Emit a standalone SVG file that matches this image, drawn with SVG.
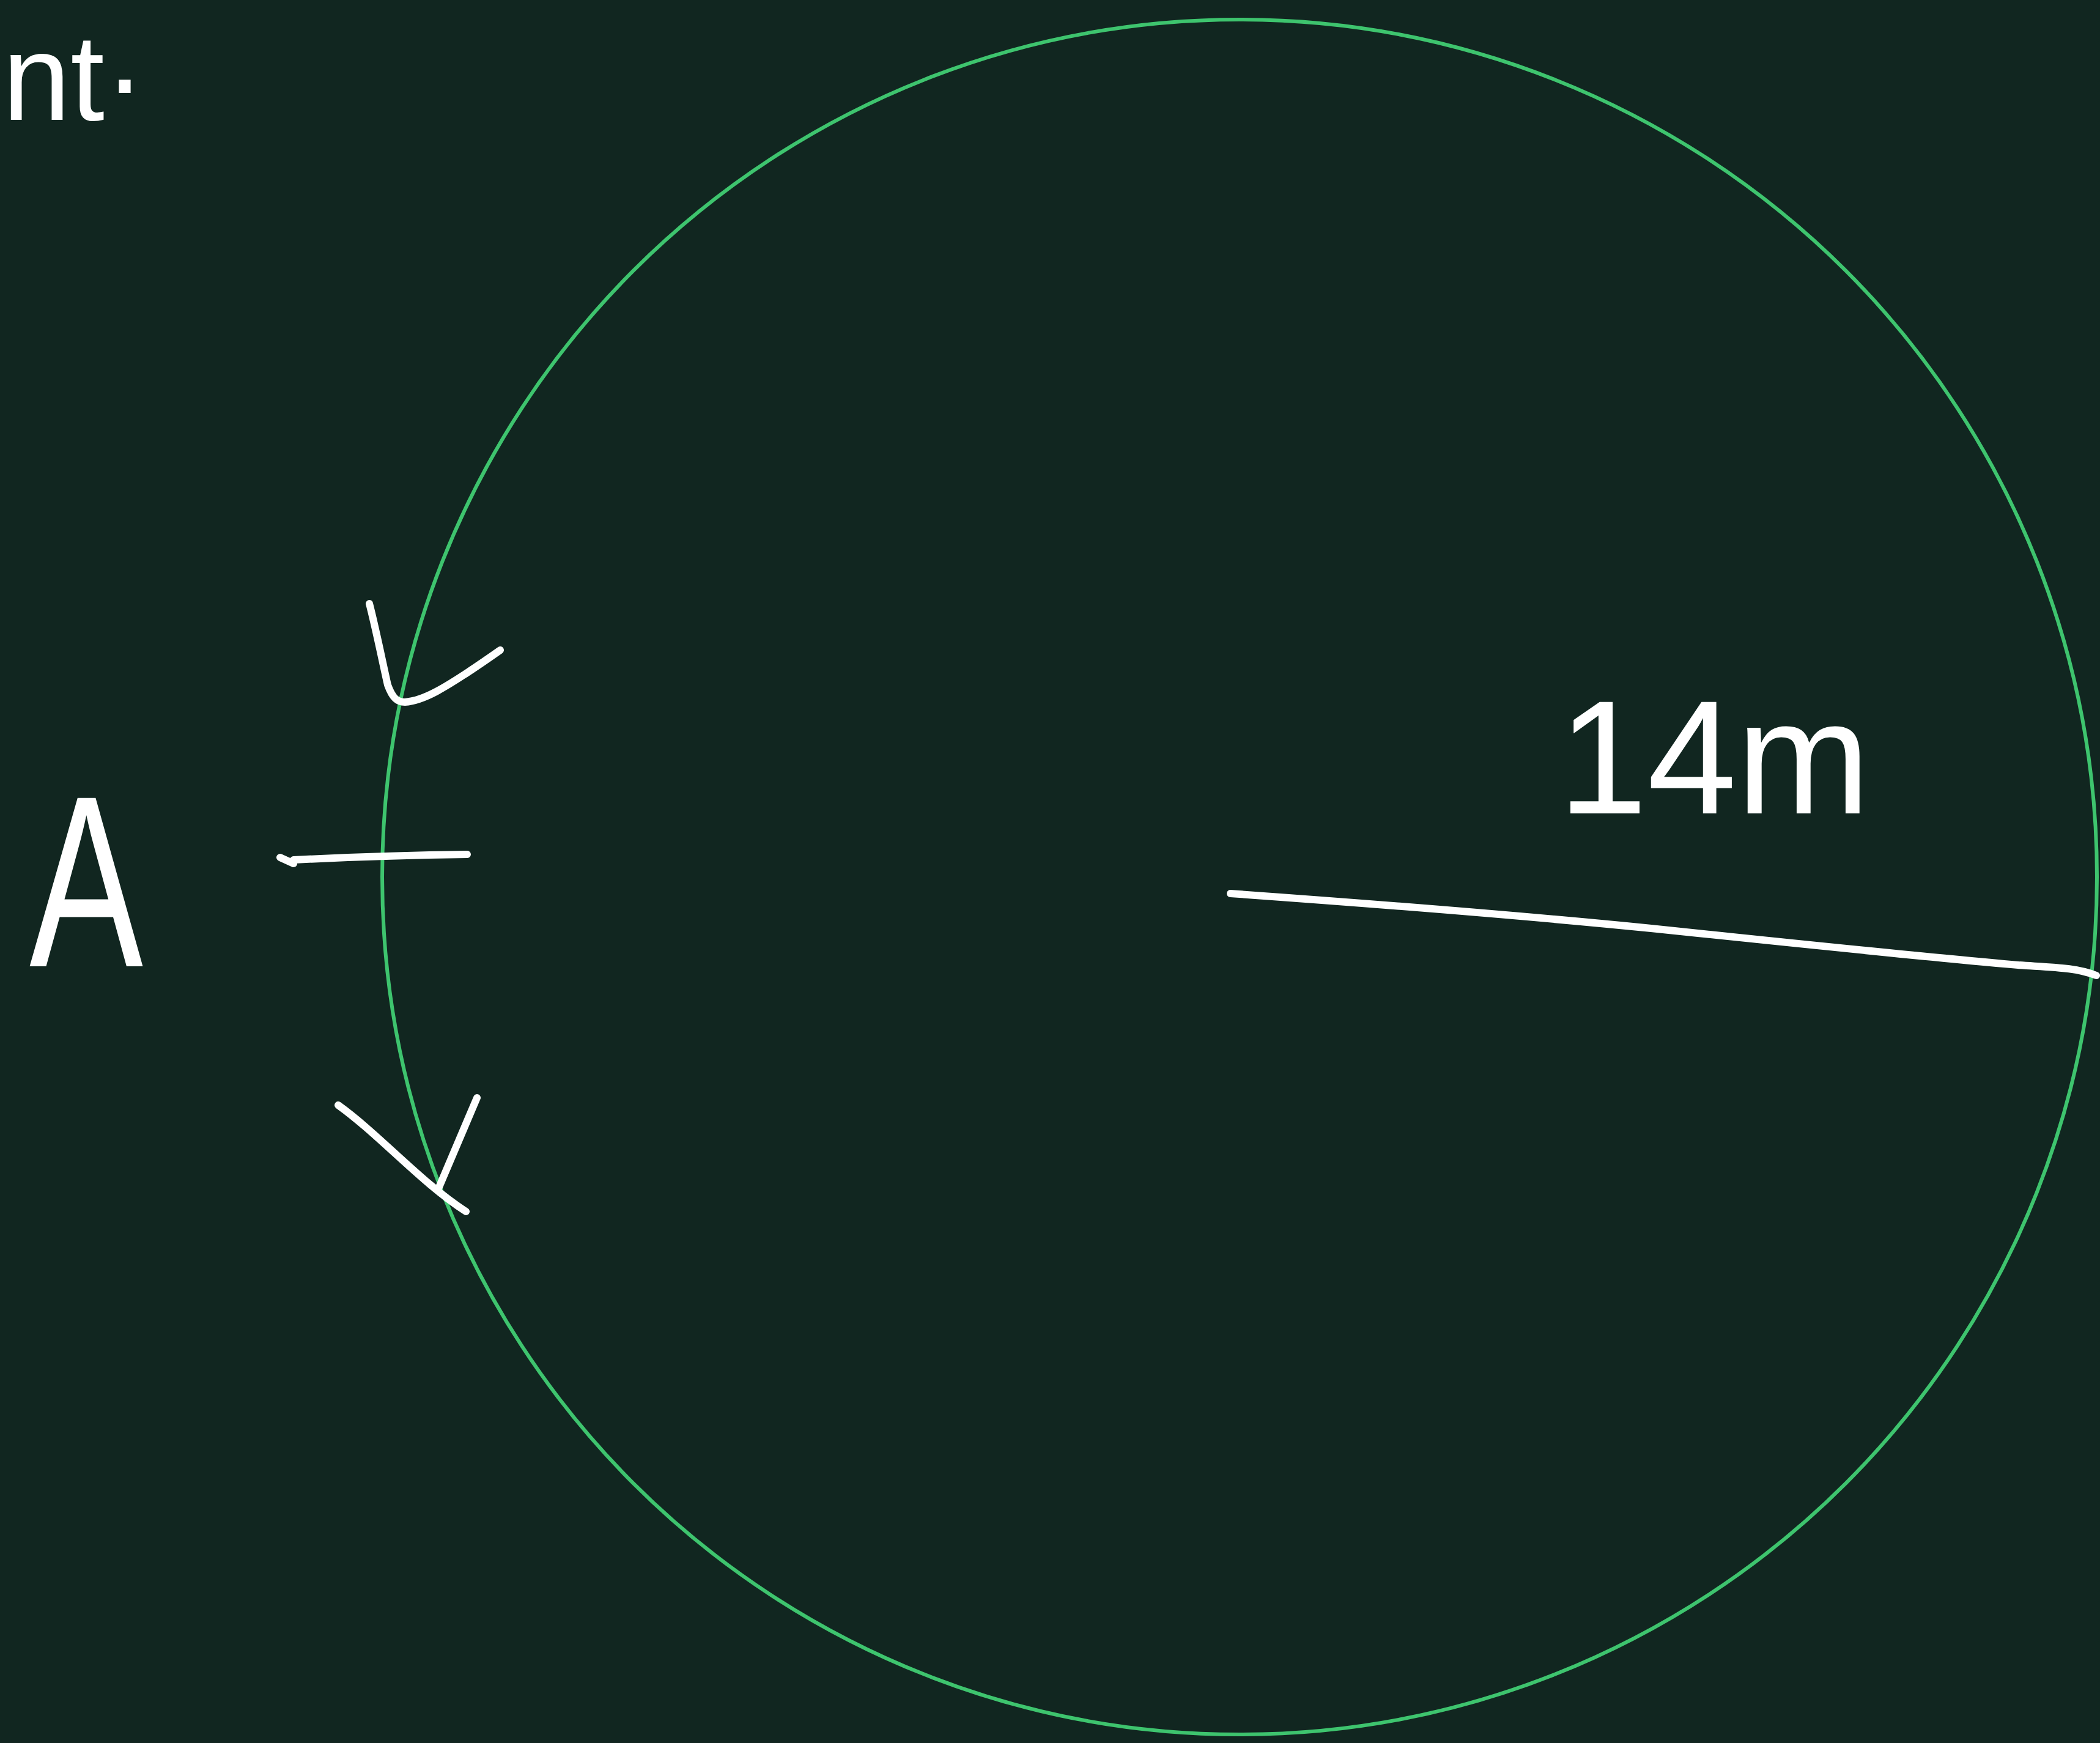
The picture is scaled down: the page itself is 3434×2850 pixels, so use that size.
<svg xmlns="http://www.w3.org/2000/svg" width="3434" height="2850" viewBox="0 0 3434 2850">
<style>
.bg{fill:#112620}
.ring{fill:none;stroke:#3ec46e;stroke-width:6}
.ink{fill:none;stroke:#ffffff;stroke-width:12;stroke-linecap:round;stroke-linejoin:round}
.hand{fill:#ffffff;font-family:"Liberation Sans","DejaVu Sans",sans-serif;font-weight:normal}
</style>
<rect class="bg" x="0" y="0" width="3434" height="2850"/>
<g id="circle">
<circle class="ring" cx="2027" cy="1434" r="1402"/>
</g>
<g id="radius">
<path class="ink" d="M2012,1461 C2250,1478 2520,1500 2700,1518 C2900,1539 3150,1565 3300,1578 C3360,1582 3395,1582 3428,1595"/>
</g>
<g id="label-14m">
<text class="hand" x="2548" y="1330" font-size="265" textLength="510" lengthAdjust="spacingAndGlyphs">14m</text>
</g>
<g id="point-A">
<text class="hand" x="48" y="1580" font-size="400" textLength="186" lengthAdjust="spacingAndGlyphs">A</text>
</g>
<g id="tick">
<path class="ink" d="M458,1402 L480,1412 M480,1406 C560,1402 680,1398 764,1397"/>
</g>
<g id="arrow-top">
<path class="ink" d="M604,987 C615,1030 625,1080 634,1120 C642,1142 650,1148 662,1148 C690,1146 720,1132 818,1063"/>
</g>
<g id="arrow-bottom">
<path class="ink" d="M553,1807 C620,1855 690,1935 762,1981 M780,1795 L718,1941"/>
</g>
<g id="note-fragment">
<text class="hand" x="4" y="196" font-size="200">nt·</text>
</g>
</svg>
